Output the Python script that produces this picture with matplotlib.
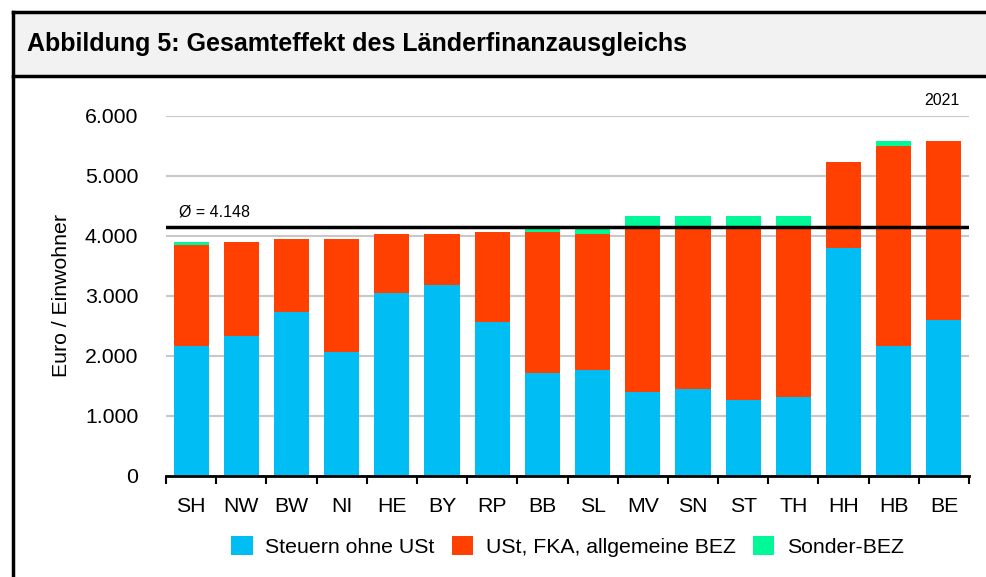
import numpy as np
import matplotlib.pyplot as plt
from matplotlib.patches import Rectangle
from matplotlib.lines import Line2D

plt.rcParams['font.family'] = ['Liberation Sans', 'DejaVu Sans']

laender = ['SH', 'NW', 'BW', 'NI', 'HE', 'BY', 'RP', 'BB', 'SL', 'MV', 'SN', 'ST', 'TH', 'HH', 'HB', 'BE']
steuern = [2160, 2330, 2735, 2060, 3045, 3180, 2570, 1710, 1760, 1395, 1445, 1265, 1310, 3795, 2160, 2595]
ust_fka_bez = [1685, 1565, 1210, 1885, 985, 850, 1495, 2350, 2270, 2770, 2720, 2900, 2855, 1435, 3335, 2985]
sonder_bez = [50, 0, 0, 0, 0, 0, 0, 50, 135, 165, 165, 165, 165, 0, 85, 0]
durchschnitt = 4148
jahr = '2021'

c_blue = '#00bef4'
c_red = '#ff4000'
c_green = '#00f996'

W, H = 986, 577
fig = plt.figure(figsize=(W / 100, H / 100), dpi=100)


def fx(px):
    return px / W


def fy(py):
    return 1 - py / H


# Rahmen und Titelleiste
fig.patches.append(Rectangle((fx(13), fy(76)), 1, fy(12) - fy(76), transform=fig.transFigure,
                             facecolor='#f2f2f2', edgecolor='none', zorder=0))
fig.lines.append(Line2D([fx(13), 1], [fy(12), fy(12)], transform=fig.transFigure, color='black', lw=2.5))
fig.lines.append(Line2D([fx(13), 1], [fy(76), fy(76)], transform=fig.transFigure, color='black', lw=2.5))
fig.lines.append(Line2D([fx(13), fx(13)], [0, fy(12)], transform=fig.transFigure, color='black', lw=2.5))
fig.text(fx(27), fy(44), 'Abbildung 5: Gesamteffekt des Länderfinanzausgleichs',
         fontsize=18, fontweight='bold', va='center', ha='left')

ax = fig.add_axes([fx(166), fy(475.7), fx(969) - fx(166), fy(115.7) - fy(475.7)])

x = np.arange(len(laender))
s = np.array(steuern)
u = np.array(ust_fka_bez)
g = np.array(sonder_bez)
ax.bar(x, s, width=0.7, color=c_blue, label='Steuern ohne USt', zorder=2)
ax.bar(x, u, width=0.7, bottom=s, color=c_red, label='USt, FKA, allgemeine BEZ', zorder=2)
ax.bar(x, g, width=0.7, bottom=s + u, color=c_green, label='Sonder-BEZ', zorder=2)

ax.axhline(durchschnitt, color='black', lw=2.5, zorder=3)
ax.text(-0.25, durchschnitt + 120, 'Ø = ' + f'{durchschnitt:,}'.replace(',', '.'), fontsize=11.5,
        va='bottom', ha='left')

ax.set_xlim(-0.5, len(laender) - 0.5)
ax.set_ylim(0, 6000)
ax.set_yticks(np.arange(0, 6001, 1000))
ax.set_yticklabels([f'{v:,}'.replace(',', '.') for v in range(0, 6001, 1000)], fontsize=15.3)
ax.tick_params(axis='y', length=0, pad=20)
ax.grid(axis='y', color='#c8c8c8', lw=1.5, zorder=0)
ax.set_axisbelow(True)

ax.set_xticks(x)
ax.set_xticklabels(laender, fontsize=15.3)
ax.set_xticks(np.arange(-0.5, len(laender), 1), minor=True)
ax.tick_params(axis='x', which='major', length=0, pad=15)
ax.tick_params(axis='x', which='minor', length=6, width=1.5, direction='out')

for sp in ['top', 'right', 'left']:
    ax.spines[sp].set_visible(False)
ax.spines['bottom'].set_linewidth(2)
ax.spines['bottom'].set_zorder(4)

ax.set_ylabel('Euro / Einwohner', fontsize=15.3, labelpad=10)
ax.text(0.988, 6000 + 130, jahr, transform=ax.get_yaxis_transform(), fontsize=11.5,
        ha='right', va='bottom')

ax.legend(loc='upper center', bbox_to_anchor=(0.5, -0.115), ncol=3, frameon=False, fontsize=15.3,
          handlelength=1.0, handleheight=1.0, columnspacing=0.8, handletextpad=0.6)

fig.savefig('out.png', dpi=100)
